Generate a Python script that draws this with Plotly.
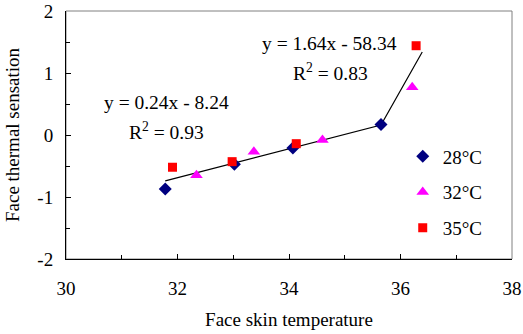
import plotly.graph_objects as go

# Data
x28 = [31.78, 33.02, 34.07, 35.65]
y28 = [-0.87, -0.47, -0.21, 0.17]
x32 = [32.34, 33.37, 34.60, 36.21]
y32 = [-0.65, -0.27, -0.08, 0.77]
x35 = [31.91, 32.98, 34.13, 36.28]
y35 = [-0.52, -0.43, -0.14, 1.44]
fit_x = [31.78, 35.65, 36.39]
fit_y = [-0.74, 0.16, 1.34]
y_tickvals = [-2, -1, 0, 1, 2]
y_ticktext = ["-2", "-1", "0", "1", "2"]

FONT = "Liberation Serif, Times New Roman, serif"
FS = 19

fig = go.Figure()
fig.add_trace(go.Scatter(x=fit_x, y=fit_y, mode="lines",
                         line=dict(color="black", width=1.2), showlegend=False, hoverinfo="skip"))
fig.add_trace(go.Scatter(x=x28, y=y28, mode="markers", name="28°C", legendgroup="a",
                         marker=dict(symbol="diamond", size=10, color="#000080")))
fig.add_trace(go.Scatter(x=x32, y=y32, mode="markers", name="32°C", legendgroup="b",
                         marker=dict(symbol="triangle-up", size=11, color="#FF00FF")))
fig.add_trace(go.Scatter(x=x35, y=y35, mode="markers", name="35°C", legendgroup="c",
                         marker=dict(symbol="square", size=9, color="#FF0000")))

fig.add_annotation(x=34.72, y=1.48, text="y = 1.64x - 58.34", showarrow=False,
                   font=dict(family=FONT, size=19.5, color="black"))
fig.add_annotation(x=34.74, y=1.02, text="R<sup>2</sup> = 0.83", showarrow=False,
                   font=dict(family=FONT, size=19.5, color="black"))
fig.add_annotation(x=31.8, y=0.53, text="y = 0.24x - 8.24", showarrow=False,
                   font=dict(family=FONT, size=19.5, color="black"))
fig.add_annotation(x=31.8, y=0.07, text="R<sup>2</sup> = 0.93", showarrow=False,
                   font=dict(family=FONT, size=19.5, color="black"))

fig.add_shape(type="rect", xref="paper", yref="paper", x0=0, y0=0, x1=1, y1=1,
              line=dict(color="#808080", width=1), layer="below")

fig.update_layout(
    width=523, height=334,
    margin=dict(l=66, r=11, t=11, b=75),
    paper_bgcolor="white", plot_bgcolor="white",
    font=dict(family=FONT, size=FS, color="black"),
    legend=dict(x=0.755, y=0.49, xanchor="left", yanchor="top",
                tracegroupgap=8, bgcolor="rgba(0,0,0,0)",
                font=dict(family=FONT, size=FS), itemwidth=30),
    xaxis=dict(range=[30, 38], dtick=2, showgrid=False, zeroline=False,
               showline=True, linecolor="black", linewidth=1, automargin=False,
               ticks="inside", ticklen=5, tickcolor="black",
               minor=dict(dtick=1, ticks="inside", ticklen=4, tickcolor="black"),
               ticklabelstandoff=12,
               title=dict(text="Face skin temperature", standoff=14,
                          font=dict(family=FONT, size=FS))),
    yaxis=dict(range=[-2, 2], tickmode="array", tickvals=y_tickvals, ticktext=y_ticktext,
               showgrid=False, zeroline=False,
               showline=True, linecolor="black", linewidth=1, automargin=False,
               ticks="inside", ticklen=5, tickcolor="black",
               minor=dict(dtick=0.5, ticks="inside", ticklen=4, tickcolor="black"),
               ticklabelstandoff=8,
               title=dict(text="Face thermal sensation", standoff=12,
                          font=dict(family=FONT, size=FS))),
)

fig.write_html("out.html", config={"displayModeBar": False},
               post_script="document.body.style.margin='0';")
